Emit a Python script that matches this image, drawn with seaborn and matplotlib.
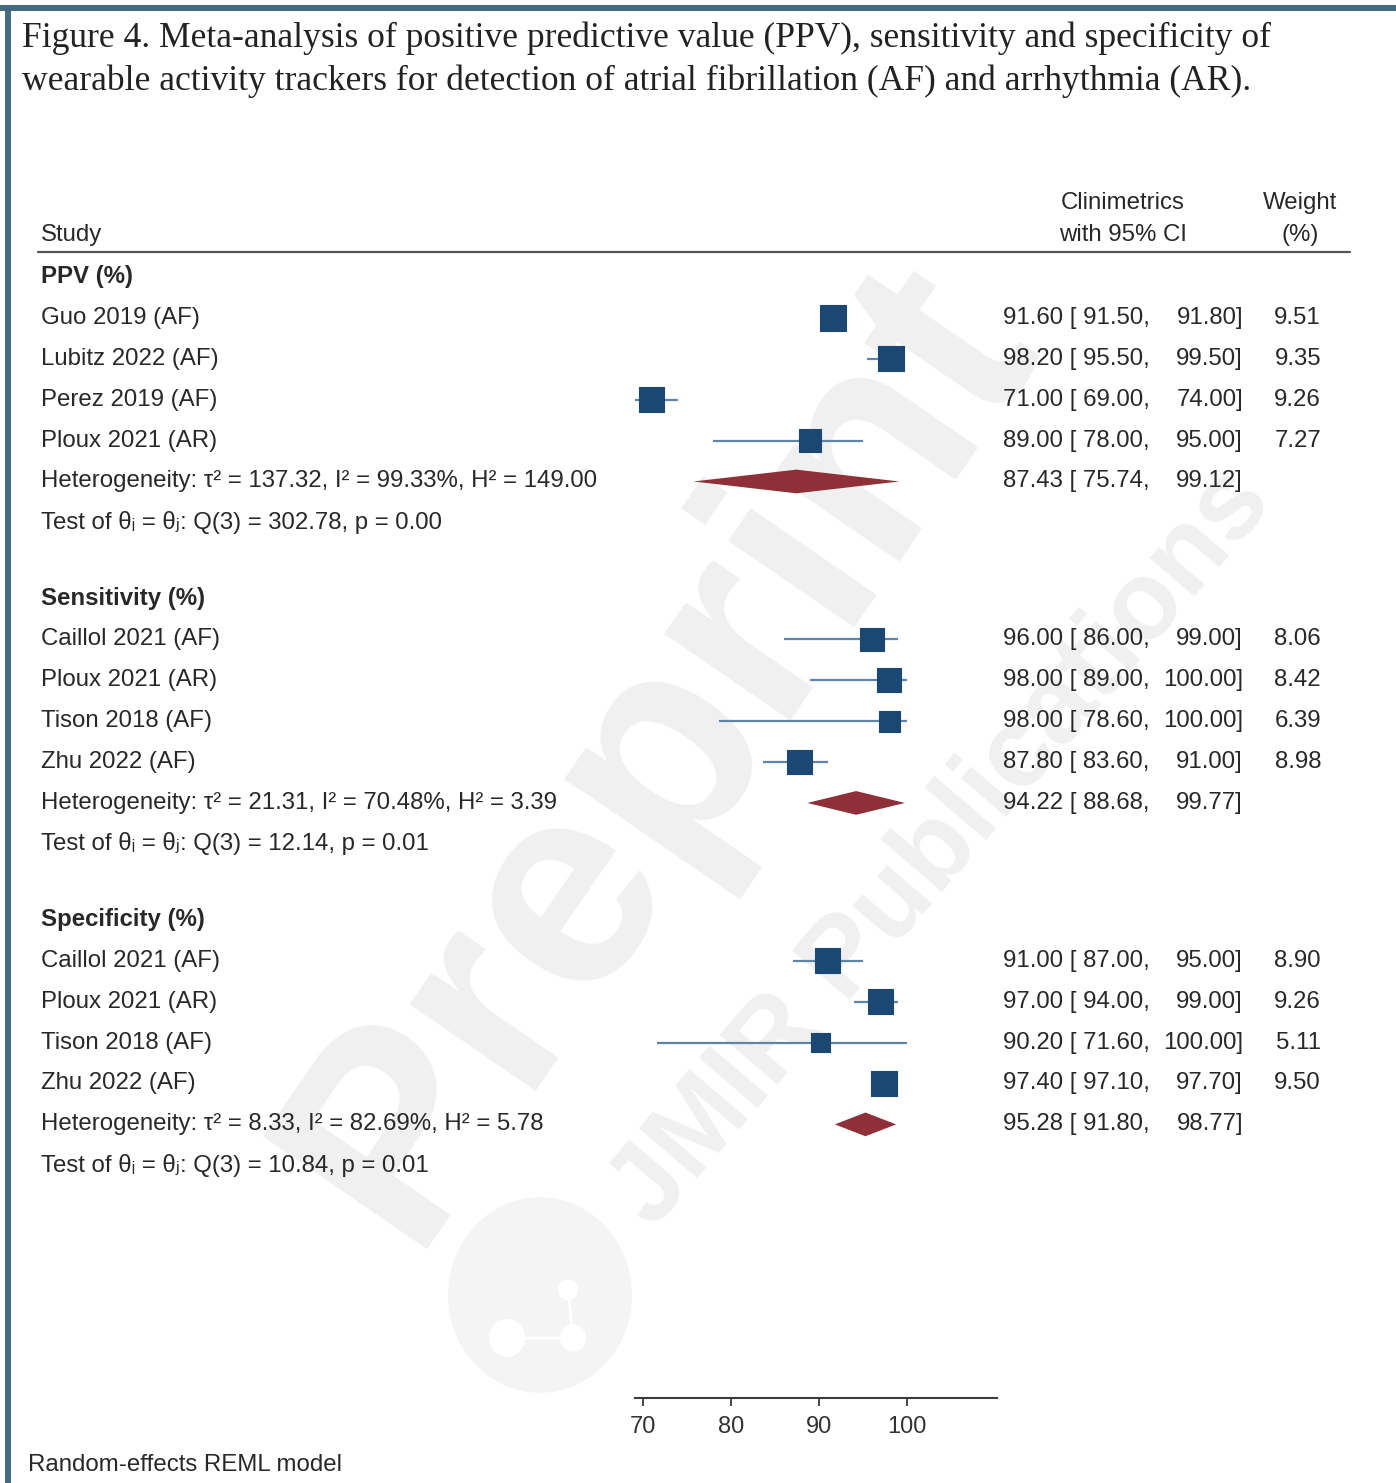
import numpy as np
import pandas as pd
import matplotlib
matplotlib.use("Agg")
import matplotlib.pyplot as plt
import matplotlib.transforms as mtransforms
from matplotlib.patches import Rectangle, Circle
import seaborn as sns

# ---- data -------------------------------------------------------------
groups = ["PPV (%)", "Sensitivity (%)", "Specificity (%)"]

studies_ppv = ["Guo 2019 (AF)", "Lubitz 2022 (AF)", "Perez 2019 (AF)", "Ploux 2021 (AR)"]
est_ppv = [91.60, 98.20, 71.00, 89.00]
lo_ppv = [91.50, 95.50, 69.00, 78.00]
hi_ppv = [91.80, 99.50, 74.00, 95.00]
w_ppv = [9.51, 9.35, 9.26, 7.27]
pooled_ppv = [87.43, 75.74, 99.12]
het_ppv = "Heterogeneity: τ² = 137.32, I² = 99.33%, H² = 149.00"
test_ppv = "Test of θᵢ = θⱼ: Q(3) = 302.78, p = 0.00"

studies_sens = ["Caillol 2021 (AF)", "Ploux 2021 (AR)", "Tison 2018 (AF)", "Zhu 2022 (AF)"]
est_sens = [96.00, 98.00, 98.00, 87.80]
lo_sens = [86.00, 89.00, 78.60, 83.60]
hi_sens = [99.00, 100.00, 100.00, 91.00]
w_sens = [8.06, 8.42, 6.39, 8.98]
pooled_sens = [94.22, 88.68, 99.77]
het_sens = "Heterogeneity: τ² = 21.31, I² = 70.48%, H² = 3.39"
test_sens = "Test of θᵢ = θⱼ: Q(3) = 12.14, p = 0.01"

studies_spec = ["Caillol 2021 (AF)", "Ploux 2021 (AR)", "Tison 2018 (AF)", "Zhu 2022 (AF)"]
est_spec = [91.00, 97.00, 90.20, 97.40]
lo_spec = [87.00, 94.00, 71.60, 97.10]
hi_spec = [95.00, 99.00, 100.00, 97.70]
w_spec = [8.90, 9.26, 5.11, 9.50]
pooled_spec = [95.28, 91.80, 98.77]
het_spec = "Heterogeneity: τ² = 8.33, I² = 82.69%, H² = 5.78"
test_spec = "Test of θᵢ = θⱼ: Q(3) = 10.84, p = 0.01"

x_ticks = [70, 80, 90, 100]

title = ("Figure 4. Meta-analysis of positive predictive value (PPV), sensitivity and specificity of\n"
         "wearable activity trackers for detection of atrial fibrillation (AF) and arrhythmia (AR).")

# ---- layout -----------------------------------------------------------
W, H = 1396, 1483
GROUP_STEP = 7.86           # rows between group headers
NAVY = "#1b4872"
CI_BLUE = "#5f84aa"
MAROON = "#8f3038"
TXT = "#282828"

blocks = [
    (groups[0], studies_ppv, est_ppv, lo_ppv, hi_ppv, w_ppv, pooled_ppv, het_ppv, test_ppv),
    (groups[1], studies_sens, est_sens, lo_sens, hi_sens, w_sens, pooled_sens, het_sens, test_sens),
    (groups[2], studies_spec, est_spec, lo_spec, hi_spec, w_spec, pooled_spec, het_spec, test_spec),
]

rows = []
for g, (name, st, e, lo, hi, w, pooled, het, test) in enumerate(blocks):
    base = g * GROUP_STEP
    for i in range(len(st)):
        rows.append(dict(group=name, study=st[i], est=e[i], lo=lo[i], hi=hi[i],
                         weight=w[i], row=base + 1 + i))
df = pd.DataFrame(rows)

sns.set_theme(style="white")
plt.rcParams["font.family"] = ["Liberation Sans", "DejaVu Sans"]

fig = plt.figure(figsize=(W / 100, H / 100), dpi=100)
fig.patch.set_facecolor("white")

# plot panel: x from 635 px to 997 px, y from 252 px to 1398 px
ax = fig.add_axes([635 / W, 1 - 1398 / H, 362 / W, (1398 - 252) / H])
ax.patch.set_visible(False)
ax.set_xlim(69.09, 110.23)
ax.set_ylim(27.41, -0.611)

# confidence intervals
ax.hlines(df["row"], df["lo"], df["hi"], color=CI_BLUE, lw=1.6, zorder=2)

# study boxes, area proportional to weight
size_map = {w: 35.6 * w for w in df["weight"]}
sns.scatterplot(data=df, x="est", y="row", size="weight", sizes=size_map,
                marker="s", color=NAVY, edgecolor=NAVY, linewidth=0.8,
                legend=False, ax=ax, zorder=3)

# pooled diamonds
for g, blk in enumerate(blocks):
    pe, plo, phi = blk[6]
    y = g * GROUP_STEP + 5
    hh = 0.29
    ax.fill([plo, pe, phi, pe], [y, y - hh, y, y + hh], color=MAROON, lw=0, zorder=3)

# bottom axis
for s in ["top", "left", "right"]:
    ax.spines[s].set_visible(False)
ax.spines["bottom"].set_color("#3c3c3c")
ax.spines["bottom"].set_linewidth(1.5)
ax.set_xticks(x_ticks)
ax.set_xticklabels([str(t) for t in x_ticks])
ax.set_yticks([])
ax.tick_params(axis="x", bottom=True, length=6, width=1.3, color="#3c3c3c",
               labelsize=17, labelcolor="#333333", pad=7)
ax.set_xlabel("")
ax.set_ylabel("")

# ---- text columns -----------------------------------------------------
tr = mtransforms.blended_transform_factory(fig.transFigure, ax.transData)
FS = 17.3


def fx(px):
    return px / W


for g, (name, st, e, lo, hi, w, pooled, het, test) in enumerate(blocks):
    base = g * GROUP_STEP
    ax.text(fx(41), base, name, transform=tr, ha="left", va="center",
            fontsize=FS, fontweight="bold", color=TXT, clip_on=False)
    for i in range(len(st)):
        y = base + 1 + i
        ax.text(fx(41), y, st[i], transform=tr, ha="left", va="center",
                fontsize=FS, color=TXT, clip_on=False)
        ax.text(fx(1003), y, f"{e[i]:.2f} [{lo[i]:6.2f},", transform=tr, ha="left",
                va="center", fontsize=FS, color=TXT, clip_on=False)
        ax.text(fx(1243), y, f"{hi[i]:.2f}]", transform=tr, ha="right",
                va="center", fontsize=FS, color=TXT, clip_on=False)
        ax.text(fx(1321), y, f"{w[i]:.2f}", transform=tr, ha="right",
                va="center", fontsize=FS, color=TXT, clip_on=False)
    y = base + 5
    ax.text(fx(41), y, het, transform=tr, ha="left", va="center",
            fontsize=FS, color=TXT, clip_on=False)
    ax.text(fx(1003), y, f"{pooled[0]:.2f} [{pooled[1]:6.2f},", transform=tr,
            ha="left", va="center", fontsize=FS, color=TXT, clip_on=False)
    ax.text(fx(1243), y, f"{pooled[2]:.2f}]", transform=tr, ha="right",
            va="center", fontsize=FS, color=TXT, clip_on=False)
    ax.text(fx(41), base + 6, test, transform=tr, ha="left", va="center",
            fontsize=FS, color=TXT, clip_on=False)

# column headers and rule
fig.text(fx(41), 1 - 235 / H, "Study", ha="left", va="center", fontsize=FS, color=TXT)
fig.text(fx(1123), 1 - 203 / H, "Clinimetrics", ha="center", va="center", fontsize=FS, color=TXT)
fig.text(fx(1123), 1 - 235 / H, "with 95% CI", ha="center", va="center", fontsize=FS, color=TXT)
fig.text(fx(1300), 1 - 203 / H, "Weight", ha="center", va="center", fontsize=FS, color=TXT)
fig.text(fx(1300), 1 - 235 / H, "(%)", ha="center", va="center", fontsize=FS, color=TXT)
fig.add_artist(plt.Line2D([fx(38), fx(1350)], [1 - 252 / H, 1 - 252 / H],
                          color="#555555", lw=1.6))

fig.text(fx(28), 1 - 1465 / H, "Random-effects REML model", ha="left", va="center",
         fontsize=FS, color=TXT)

# title
fig.text(fx(22), 1 - 59.5 / H, title, ha="left", va="center", fontsize=25.6,
         family="Liberation Serif", color="#222222", linespacing=1.36)

# frame bars
fig.add_artist(Rectangle((0, 1 - 11 / H), 1, 6 / H, transform=fig.transFigure,
                         color="#466a80", lw=0))
fig.add_artist(Rectangle((5 / W, 0), 6 / W, 1 - 5 / H, transform=fig.transFigure,
                         color="#466a80", lw=0))

# watermark
WM = "#f0f0f0"
fig.text(fx(660), 1 - 750 / H, "Preprint", rotation=55.5, ha="center", va="center",
         fontsize=208, fontweight="bold", color=WM, zorder=-2)
fig.text(fx(942), 1 - 848 / H, "JMIR Publications", rotation=49.5, ha="center",
         va="center", fontsize=80, fontweight="bold", color=WM, zorder=-2)
fig.add_artist(Circle((fx(540), 1 - 1295 / H), 92 / W, transform=fig.transFigure,
                      color="#f4f4f4", lw=0, zorder=-2))
# small molecule glyph inside the watermark disc
fig.add_artist(plt.Line2D([fx(507), fx(573), fx(568)],
                          [1 - 1338 / H, 1 - 1338 / H, 1 - 1290 / H],
                          color="white", lw=2, zorder=-1))
for cx, cy, r in [(507, 1338, 18), (573, 1338, 13), (568, 1290, 10)]:
    fig.add_artist(Circle((fx(cx), 1 - cy / H), r / W, transform=fig.transFigure,
                          color="white", lw=0, zorder=-1))

fig.savefig("out.png", dpi=100, facecolor="white")
